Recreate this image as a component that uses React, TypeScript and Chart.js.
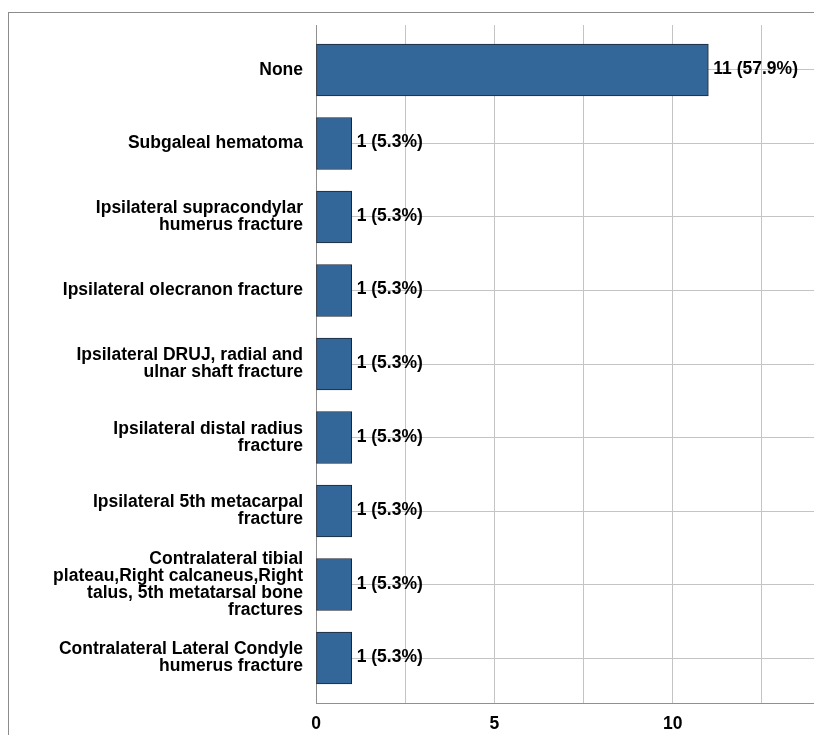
import React, { useEffect, useRef } from 'react';
import { Chart, registerables } from 'chart.js';

Chart.register(...registerables);

const categories: string[][] = [
  ['None'],
  ['Subgaleal hematoma'],
  ['Ipsilateral supracondylar', 'humerus fracture'],
  ['Ipsilateral olecranon fracture'],
  ['Ipsilateral DRUJ, radial and', 'ulnar shaft fracture'],
  ['Ipsilateral distal radius', 'fracture'],
  ['Ipsilateral 5th metacarpal', 'fracture'],
  ['Contralateral tibial', 'plateau,Right calcaneus,Right', 'talus, 5th metatarsal bone', 'fractures'],
  ['Contralateral Lateral Condyle', 'humerus fracture'],
];
const counts: number[] = [11, 1, 1, 1, 1, 1, 1, 1, 1];
const percents: number[] = [57.9, 5.3, 5.3, 5.3, 5.3, 5.3, 5.3, 5.3, 5.3];
const xTickValues: number[] = [0, 5, 10];

const FONT = '"Liberation Sans", Arial, Helvetica, sans-serif';

export default function App() {
  const ref = useRef<HTMLCanvasElement>(null);

  useEffect(() => {
    if (!ref.current) return;
    const points = counts.map((v, i) => ({ x: v, y: i }));

    const valueLabels = {
      id: 'valueLabels',
      afterDatasetsDraw(chart: any) {
        const ctx = chart.ctx;
        const meta = chart.getDatasetMeta(0);
        ctx.save();
        ctx.font = `bold 17.5px ${FONT}`;
        ctx.fillStyle = '#000';
        ctx.textAlign = 'left';
        ctx.textBaseline = 'alphabetic';
        meta.data.forEach((bar: any, i: number) => {
          ctx.fillText(`${counts[i]} (${percents[i].toFixed(1)}%)`, bar.x + 5, bar.y + 4);
        });
        ctx.restore();
      },
    };

    const chart = new Chart(ref.current, {
      type: 'bar',
      data: {
        datasets: [
          {
            data: points as any,
            backgroundColor: '#336699',
            borderColor: '#1c2635',
            borderWidth: 1,
            borderSkipped: false,
            barThickness: 52,
          },
        ],
      },
      options: {
        indexAxis: 'y',
        animation: false,
        responsive: false,
        maintainAspectRatio: false,
        layout: { padding: { top: 12, right: 0, bottom: 0, left: 0 } },
        plugins: { legend: { display: false }, tooltip: { enabled: false } },
        scales: {
          x: {
            type: 'linear',
            position: 'bottom',
            min: 0,
            max: 15,
            ticks: {
              stepSize: 2.5,
              autoSkip: false,
              maxRotation: 0,
              color: '#000',
              padding: 11,
              font: { family: FONT, size: 17.5, weight: 'bold' },
              callback: (v: any) => (xTickValues.includes(Number(v)) ? String(v) : ''),
            },
            grid: { color: '#c4c4c4', drawTicks: false, lineWidth: 1 },
            border: { color: '#909090' },
            afterFit: (s: any) => {
              s.height = 32;
              s.paddingLeft = 0;
              s.paddingRight = 0;
            },
          },
          y: {
            type: 'linear',
            reverse: true,
            offset: false,
            min: -0.612,
            max: 8.612,
            ticks: {
              stepSize: 1,
              includeBounds: false,
              autoSkip: false,
              color: '#000',
              padding: 13,
              font: { family: FONT, size: 17.5, weight: 'bold', lineHeight: '17px' },
              callback: (v: any) => categories[Number(v)] ?? '',
            },
            grid: { color: '#c4c4c4', drawTicks: false, lineWidth: 1, offset: false },
            border: { color: '#909090' },
            afterFit: (s: any) => {
              s.width = 307;
              s.paddingTop = 0;
              s.paddingBottom = 0;
            },
          },
        },
      } as any,
      plugins: [valueLabels],
    });
    return () => chart.destroy();
  }, []);

  return (
    <div
      style={{
        position: 'fixed',
        left: 8,
        top: 12,
        width: 840,
        height: 730,
        borderTop: '1px solid #8c8c8c',
        borderLeft: '1px solid #8c8c8c',
        overflow: 'hidden',
        background: '#fff',
      }}
    >
      <canvas ref={ref} width={842} height={722} style={{ display: 'block', width: 842, height: 722 }} />
    </div>
  );
}
